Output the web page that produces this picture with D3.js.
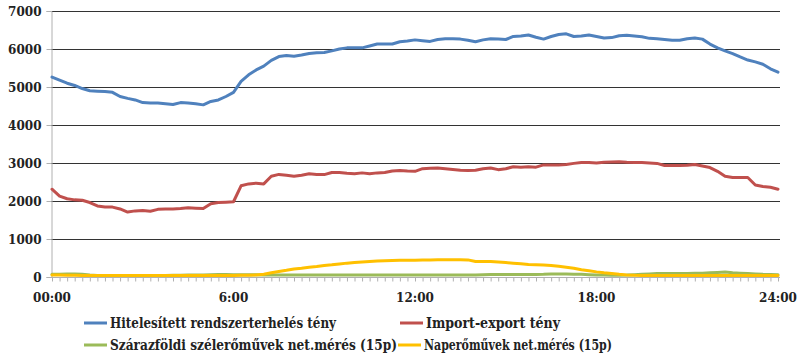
<!DOCTYPE html>
<html><head><meta charset="utf-8">
<script src="https://cdn.jsdelivr.net/npm/d3@7"></script>
<style>
body{margin:0;background:#fff;}
svg{display:block;}
.lbl{font-family:"DejaVu Serif",serif;font-weight:bold;font-size:12px;fill:#222;}
.leg{font-family:"DejaVu Serif Condensed","DejaVu Serif",serif;font-weight:bold;font-size:14px;fill:#222;}
</style></head><body>
<script>
// time in hours, every 15 minutes from 00:00 to 24:00
const hours = d3.range(97).map(i => i / 4);
const xTickLabels = ["00:00", "6:00", "12:00", "18:00", "24:00"];
const xTickHours = [0, 6, 12, 18, 24];
const yTicks = [0, 1000, 2000, 3000, 4000, 5000, 6000, 7000];

const seriesNames = ["Hitelesített rendszerterhelés tény", "Import-export tény",
  "Szárazföldi szélerőművek net.mérés (15p)", "Naperőművek net.mérés (15p)"];
const seriesColors = ["#4F81BD", "#C0504D", "#9BBB59", "#FFC000"];

const load = [5260,5180,5100,5040,4960,4900,4890,4880,4860,4750,4700,4660,4590,4580,4580,4560,
  4540,4590,4580,4560,4530,4620,4660,4750,4860,5150,5320,5450,5550,5700,5800,5830,
  5810,5840,5880,5900,5910,5950,6000,6030,6030,6030,6080,6130,6130,6130,6190,6210,
  6240,6220,6200,6250,6270,6270,6260,6230,6190,6240,6270,6260,6250,6330,6340,6370,
  6310,6260,6330,6380,6400,6330,6340,6370,6330,6290,6300,6350,6360,6340,6320,6280,
  6270,6250,6230,6230,6270,6290,6260,6130,6030,5950,5880,5790,5710,5660,5600,5480,5390];

const importExport = [2310,2130,2060,2030,2020,1960,1870,1845,1840,1790,1710,1740,1750,1730,1780,1790,
  1790,1800,1820,1810,1800,1930,1960,1970,1980,2400,2450,2470,2450,2650,2700,2680,
  2650,2680,2715,2700,2695,2750,2750,2730,2720,2740,2720,2740,2750,2790,2805,2790,
  2780,2850,2860,2870,2850,2830,2810,2805,2810,2850,2870,2825,2850,2900,2890,2900,
  2890,2950,2950,2950,2960,2990,3015,3010,3000,3020,3025,3030,3020,3015,3010,3000,
  2990,2935,2935,2935,2940,2960,2920,2880,2780,2650,2620,2620,2620,2420,2380,2360,2310];

const wind = [70,75,80,80,70,50,42,40,40,38,38,40,40,40,42,42,
  45,48,50,52,55,60,65,65,60,60,60,58,55,52,50,50,
  50,50,50,50,50,52,52,55,55,55,55,55,55,55,55,55,
  55,55,55,55,55,55,55,55,55,60,65,65,65,65,65,65,
  65,70,80,82,80,75,70,62,55,50,45,45,50,60,70,80,
  90,92,95,95,95,98,100,110,120,130,110,100,90,80,70,65,60];

const solar = [50,50,48,45,42,40,40,40,40,40,40,40,40,40,40,40,
  40,40,40,40,42,42,42,42,42,45,48,55,75,110,145,175,
  210,230,255,275,300,320,345,365,380,395,410,420,430,437,440,440,
  440,445,450,455,455,455,455,450,410,405,410,395,380,365,350,330,
  325,315,305,280,255,230,190,165,135,110,90,70,55,45,42,40,
  40,40,40,40,40,40,40,40,40,40,40,40,40,40,40,40,40];

const seriesData = [load, importExport, wind, solar];

const W = 800, H = 359;
const svg = d3.select("body").append("svg").attr("width", W).attr("height", H);

const x = d3.scaleLinear().domain([0, 24]).range([52, 778]);
const y = d3.scaleLinear().domain([0, 7000]).range([277, 11]);

// gridlines
svg.append("g").selectAll("line").data(yTicks.filter(d => d > 0)).join("line")
  .attr("x1", 51).attr("x2", 780)
  .attr("y1", d => Math.round(y(d)) + 0.5).attr("y2", d => Math.round(y(d)) + 0.5)
  .attr("stroke", "#333").attr("stroke-width", 1);

// y axis
const yAxis = d3.axisLeft(y).tickValues(yTicks).tickSize(5).tickFormat(d => d);
const gy = svg.append("g").attr("transform", "translate(51.5,0)").call(yAxis);
gy.select(".domain").attr("stroke", "#b0b0b0");
gy.selectAll(".tick line").attr("stroke", "#b0b0b0");
gy.selectAll(".tick text").attr("class", "lbl").attr("x", -10).attr("dy", "0.35em");

// x axis with minor ticks every 15 min
const xAxis = d3.axisBottom(x).tickValues(hours).tickSize(4).tickFormat("");
const gx = svg.append("g").attr("transform", "translate(0,277.5)").call(xAxis);
gx.select(".domain").attr("stroke", "#b0b0b0").attr("d", "M51,0H780");
gx.selectAll(".tick line").attr("stroke", "#b0b0b0");

svg.append("g").selectAll("text").data(xTickHours).join("text")
  .attr("class", "lbl")
  .attr("x", d => x(d)).attr("y", 302)
  .attr("text-anchor", "middle")
  .text((d, i) => xTickLabels[i]);

// lines
const line = d3.line().x((d, i) => x(hours[i])).y(d => y(d));
svg.append("g").selectAll("path").data(seriesData).join("path")
  .attr("d", d => line(d))
  .attr("fill", "none")
  .attr("stroke", (d, i) => seriesColors[i])
  .attr("stroke-width", 3)
  .attr("stroke-linejoin", "round")
  .attr("stroke-linecap", "round");

// legend
const legPos = [[84, 323, 226], [400, 323, 134], [84, 345, 287], [398, 345, 188]];
const lg = svg.append("g").selectAll("g").data(seriesNames).join("g")
  .attr("transform", (d, i) => `translate(${legPos[i][0]},${legPos[i][1]})`);
lg.append("line").attr("x1", 0).attr("x2", 23).attr("y1", 0).attr("y2", 0)
  .attr("stroke", (d, i) => seriesColors[i]).attr("stroke-width", 3);
lg.append("text").attr("class", "leg").attr("x", 26).attr("y", 0).attr("dy", "0.35em")
  .attr("textLength", (d, i) => legPos[i][2]).attr("lengthAdjust", "spacingAndGlyphs")
  .text(d => d);
</script>
</body></html>
